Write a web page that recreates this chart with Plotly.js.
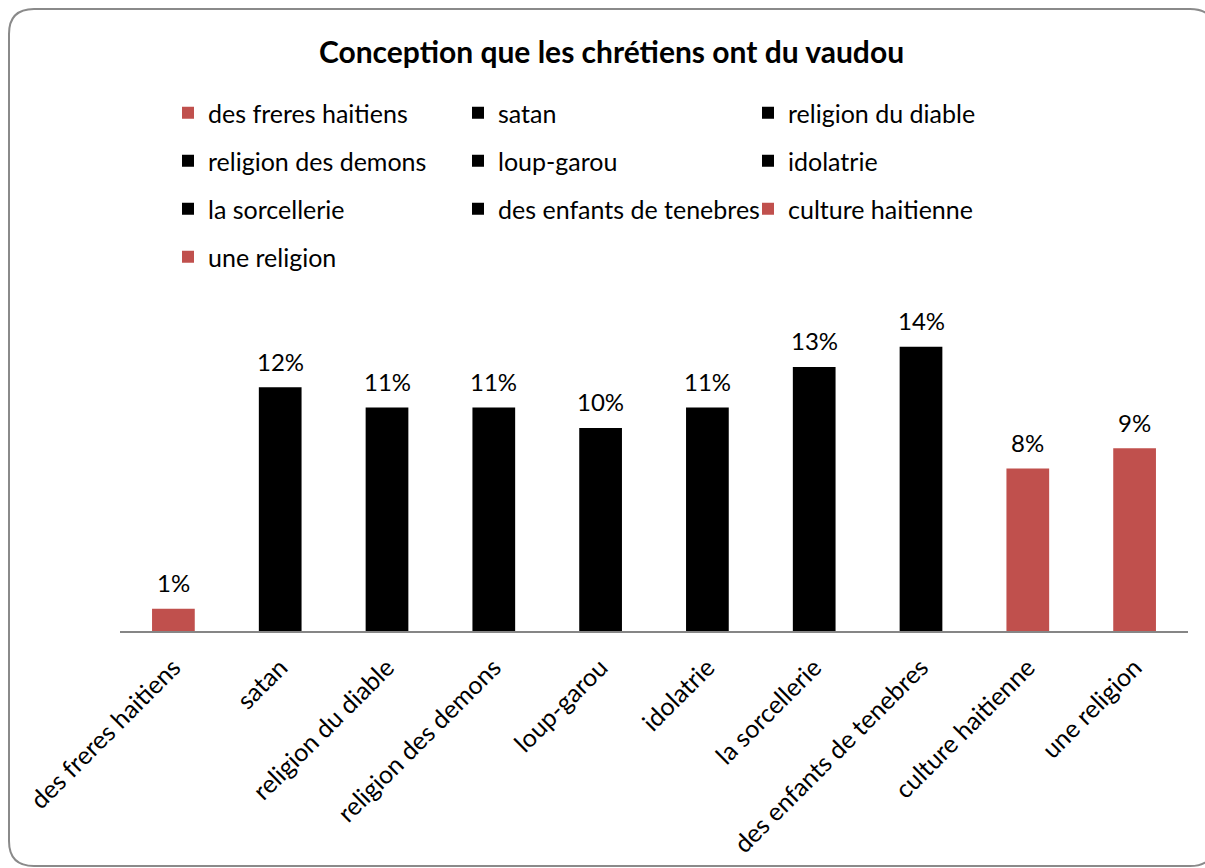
<!DOCTYPE html>
<html>
<head>
<meta charset="utf-8">
<script src="https://cdn.plot.ly/plotly-3.0.1.min.js"></script>
<style>
html,body{margin:0;padding:0;background:#fff;}
#chart{width:1205px;height:868px;}
</style>
</head>
<body>
<div id="chart"></div>
<script>
const categories = ["des freres haitiens","satan","religion du diable","religion des demons","loup-garou","idolatrie","la sorcellerie","des enfants de tenebres","culture haitienne","une religion"];
const values = [1.1, 12, 11, 11, 10, 11, 13, 14, 8, 9];
const barColors = ["#C0504D","#000000","#000000","#000000","#000000","#000000","#000000","#000000","#C0504D","#C0504D"];
const legendRows = ["legend","legend","legend","legend2","legend2","legend2","legend3","legend3","legend3","legend4"];

const W = 1205, H = 868;
const L = 120, R = 17, T = 306, B = 237;
const plotW = W - L - R, plotH = H - T - B;
const yMax = 16;
const FONT = "Lato, 'Noto Sans', sans-serif";

function px(x){ return (x - L) / plotW; }
function py(y){ return (H - B - y) / plotH; }

const traces = categories.map((c, i) => ({
  type: "bar",
  name: c,
  x: [c],
  y: [values[i]],
  marker: {color: barColors[i]},
  width: 0.4,
  legend: legendRows[i],
  hoverinfo: "x+y"
}));

const annotations = categories.map((c, i) => ({
  x: c, y: values[i], xref: "x", yref: "y",
  text: Math.round(values[i]) + "%",
  showarrow: false, yanchor: "middle", yshift: 26,
  font: {family: FONT, size: 24, color: "#000"}
}));

// rounded border
const x0 = 9, y0 = 9, x1 = 1215, y1 = 866, r = 25;
const path = [
  "M", px(x0 + r), py(y0),
  "L", px(x1 - r), py(y0),
  "Q", px(x1), py(y0), px(x1), py(y0 + r),
  "L", px(x1), py(y1 - r),
  "Q", px(x1), py(y1), px(x1 - r), py(y1),
  "L", px(x0 + r), py(y1),
  "Q", px(x0), py(y1), px(x0), py(y1 - r),
  "L", px(x0), py(y0 + r),
  "Q", px(x0), py(y0), px(x0 + r), py(y0),
  "Z"
].join(" ");

const legendBase = {
  orientation: "h", xref: "container", yref: "container",
  x: (168) / W, xanchor: "left", yanchor: "middle",
  entrywidth: 245, entrywidthmode: "pixels",
  font: {family: FONT, size: 25, color: "#000"},
  bgcolor: "rgba(0,0,0,0)", traceorder: "normal"
};
const rowsY = [113, 161, 209, 257];

const layout = {
  width: W, height: H,
  margin: {l: L, r: R, t: T, b: B, pad: 0},
  paper_bgcolor: "#fff", plot_bgcolor: "#fff",
  barmode: "overlay",
  font: {family: FONT, size: 24, color: "#000"},
  title: {
    text: "<b>Conception que les chrétiens ont du vaudou</b>",
    font: {family: FONT, size: 30, color: "#000"},
    xref: "container", yref: "container",
    x: 611.5 / W, xanchor: "center",
    y: 1 - 52 / H, yanchor: "middle"
  },
  xaxis: {
    type: "category",
    showline: true, linecolor: "#868686", linewidth: 2,
    ticks: "", tickangle: -45, ticklabelstandoff: 10,
    tickfont: {family: FONT, size: 25, color: "#000"},
    showgrid: false, zeroline: false, fixedrange: true
  },
  yaxis: {
    range: [0, yMax], visible: false, fixedrange: true,
    showgrid: false, zeroline: false
  },
  annotations: annotations,
  shapes: [{
    type: "path", xref: "paper", yref: "paper", path: path,
    line: {color: "#8a8a8a", width: 2}, fillcolor: "rgba(0,0,0,0)", layer: "above"
  }],
  legend:  Object.assign({}, legendBase, {y: 1 - rowsY[0] / H}),
  legend2: Object.assign({}, legendBase, {y: 1 - rowsY[1] / H}),
  legend3: Object.assign({}, legendBase, {y: 1 - rowsY[2] / H}),
  legend4: Object.assign({}, legendBase, {y: 1 - rowsY[3] / H}),
  showlegend: true
};

Plotly.newPlot("chart", traces, layout, {displayModeBar: false, staticPlot: true});
</script>
</body>
</html>
